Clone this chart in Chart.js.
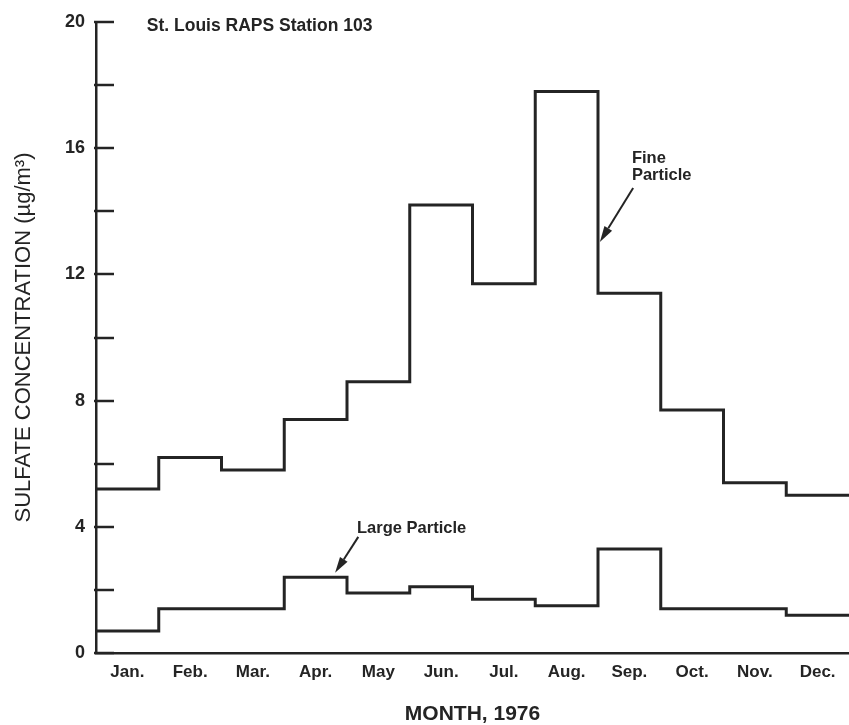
<!DOCTYPE html>
<html>
<head>
<meta charset="utf-8">
<script src="https://cdn.jsdelivr.net/npm/chart.js@4.4.1/dist/chart.umd.min.js"></script>
<style>
  html, body { margin: 0; padding: 0; background: #fff; }
  #wrap { width: 849px; height: 725px; }
</style>
</head>
<body>
<div id="wrap"><canvas id="sulfate"></canvas></div>
<script>
// monthly mean sulfate, St. Louis RAPS station 103, 1976
let months = ['Jan.', 'Feb.', 'Mar.', 'Apr.', 'May', 'Jun.', 'Jul.', 'Aug.', 'Sep.', 'Oct.', 'Nov.', 'Dec.'];
let fineParticle = [5.2, 6.2, 5.8, 7.4, 8.6, 14.2, 11.7, 17.8, 11.4, 7.7, 5.4, 5.0];
let largeParticle = [0.7, 1.4, 1.4, 2.4, 1.9, 2.1, 1.7, 1.5, 3.3, 1.4, 1.4, 1.2];
let yTickValues = [0, 2, 4, 6, 8, 10, 12, 14, 16, 18, 20];
let yTickLabels = ['0', '', '4', '', '8', '', '12', '', '16', '', '20'];

// notes on the plot, in data units
let notes = [
    { text: 'St. Louis RAPS Station 103', x: 0.81, y: 19.87, size: 17.5 },
    { text: 'Fine', x: 8.54, y: 15.69, size: 16.5 },
    { text: 'Particle', x: 8.54, y: 15.15, size: 16.5 },
    { text: 'Large Particle', x: 4.16, y: 3.96, size: 16.5 }
];
let arrows = [
    { from: [8.56, 14.74], to: [8.03, 13.03] },
    { from: [4.18, 3.68], to: [3.81, 2.54] }
];

const ink = '#242424';

// one step per month: hold the value over the month, repeat Dec. to close it
function steps(values) {
    let pts = values.map((v, i) => ({ x: i, y: v }));
    pts.push({ x: values.length, y: values[values.length - 1] });
    return pts;
}

const inwardTicks = {
    id: 'inwardTicks',
    afterDraw(chart) {
        let ctx = chart.ctx;
        let y = chart.scales.y;
        let left = chart.chartArea.left;
        ctx.save();
        ctx.strokeStyle = ink;
        ctx.lineWidth = 2.5;
        yTickValues.forEach(v => {
            let py = Math.round(y.getPixelForValue(v));
            ctx.beginPath();
            ctx.moveTo(left - 2, py);
            ctx.lineTo(left + 18, py);
            ctx.stroke();
        });
        ctx.restore();
    }
};

const notesPlugin = {
    id: 'notes',
    afterDraw(chart) {
        let ctx = chart.ctx;
        let xs = chart.scales.x, ys = chart.scales.y;
        ctx.save();
        ctx.fillStyle = ink;
        ctx.textAlign = 'left';
        ctx.textBaseline = 'middle';
        notes.forEach(n => {
            ctx.font = 'bold ' + n.size + 'px "Liberation Sans", Arial, sans-serif';
            ctx.fillText(n.text, xs.getPixelForValue(n.x), ys.getPixelForValue(n.y));
        });
        ctx.strokeStyle = ink;
        ctx.lineWidth = 2;
        arrows.forEach(a => {
            let x1 = xs.getPixelForValue(a.from[0]), y1 = ys.getPixelForValue(a.from[1]);
            let x2 = xs.getPixelForValue(a.to[0]), y2 = ys.getPixelForValue(a.to[1]);
            let ang = Math.atan2(y2 - y1, x2 - x1);
            let len = 16, half = 4.5;
            let bx = x2 - len * Math.cos(ang), by = y2 - len * Math.sin(ang);
            ctx.beginPath();
            ctx.moveTo(x1, y1);
            ctx.lineTo(bx, by);
            ctx.stroke();
            ctx.beginPath();
            ctx.moveTo(x2, y2);
            ctx.lineTo(bx + half * Math.sin(ang), by - half * Math.cos(ang));
            ctx.lineTo(bx - half * Math.sin(ang), by + half * Math.cos(ang));
            ctx.closePath();
            ctx.fill();
        });
        ctx.restore();
    }
};

new Chart(document.getElementById('sulfate'), {
    type: 'line',
    data: {
        datasets: [
            {
                label: 'Fine Particle',
                data: steps(fineParticle),
                stepped: 'before',
                borderColor: ink,
                borderWidth: 3,
                pointRadius: 0,
                fill: false
            },
            {
                label: 'Large Particle',
                data: steps(largeParticle),
                stepped: 'before',
                borderColor: ink,
                borderWidth: 3,
                pointRadius: 0,
                fill: false
            }
        ]
    },
    options: {
        responsive: true,
        maintainAspectRatio: false,
        animation: false,
        layout: { padding: { top: 22, right: 0, left: 0, bottom: 0 } },
        plugins: {
            legend: { display: false },
            tooltip: { enabled: false }
        },
        scales: {
            x: {
                type: 'linear',
                min: 0,
                max: 12,
                afterFit: s => { s.height = 72; },
                afterBuildTicks: s => { s.ticks = months.map((m, i) => ({ value: i + 0.5 })); },
                grid: { display: false },
                border: { display: true, color: ink, width: 2.5 },
                ticks: {
                    autoSkip: false,
                    maxRotation: 0,
                    padding: 1,
                    color: ink,
                    font: { family: '"Liberation Sans", Arial, sans-serif', size: 17, weight: 'bold' },
                    callback: v => months[Math.floor(v)]
                },
                title: {
                    display: true,
                    text: 'MONTH, 1976',
                    color: ink,
                    padding: { top: 0, bottom: 0 },
                    font: { family: '"Liberation Sans", Arial, sans-serif', size: 21, weight: 'bold', lineHeight: 1 }
                }
            },
            y: {
                min: 0,
                max: 20,
                afterFit: s => { s.width = 96; },
                afterBuildTicks: s => { s.ticks = yTickValues.map(v => ({ value: v })); },
                grid: { display: false },
                border: { display: true, color: ink, width: 2.5 },
                ticks: {
                    padding: 3,
                    color: ink,
                    font: { family: '"Liberation Sans", Arial, sans-serif', size: 18, weight: 'bold' },
                    callback: (v, i) => yTickLabels[i]
                },
                title: {
                    display: true,
                    text: 'SULFATE CONCENTRATION (\u00b5g/m\u00b3)',
                    color: ink,
                    padding: { top: 11, bottom: 0 },
                    font: { family: '"Liberation Sans", Arial, sans-serif', size: 22, lineHeight: 1.2 }
                }
            }
        }
    },
    plugins: [inwardTicks, notesPlugin]
});
</script>
</body>
</html>
